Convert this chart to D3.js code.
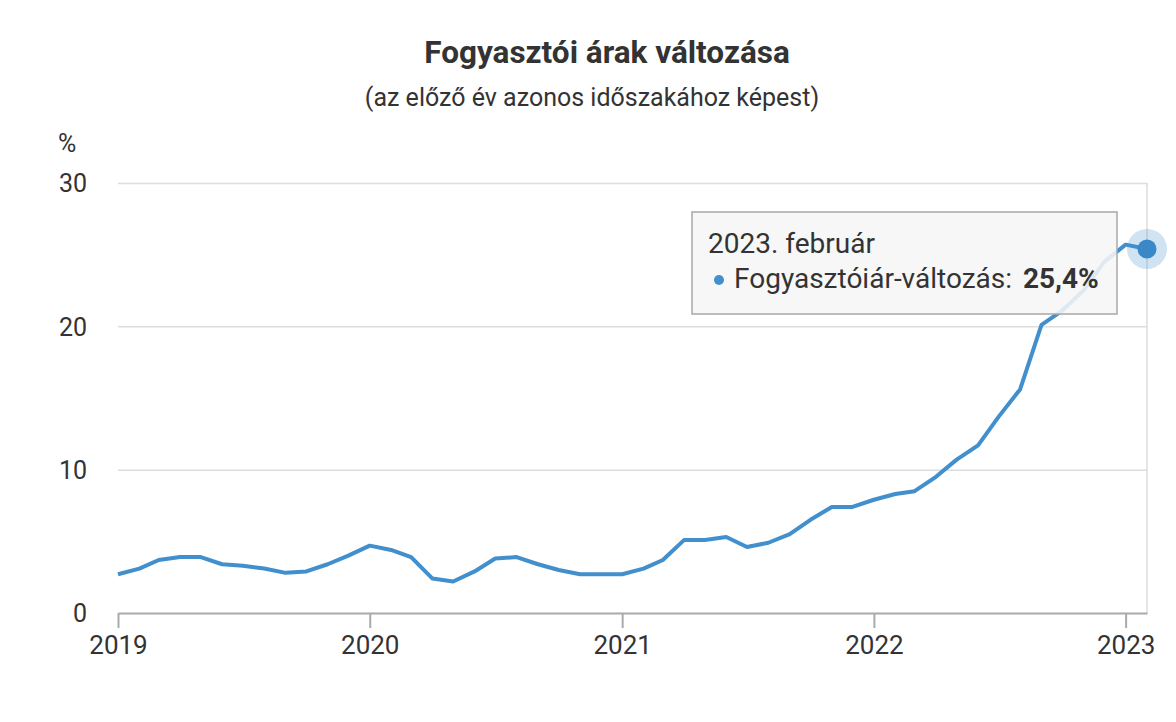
<!DOCTYPE html>
<html lang="hu">
<head>
<meta charset="utf-8">
<script src="https://cdn.jsdelivr.net/npm/d3@7"></script>
<style>
	html, body { margin: 0; padding: 0; background: #fff; }
	svg { display: block; font-family: Roboto, "Noto Sans", sans-serif; }
</style>
</head>
<body>
<div id="chart"></div>
<script>
// fogyasztói árak, előző év azonos időszakához képest (%)
const kezdoHonap = '2019-01';
const inflacio = [
	2.7, 3.1, 3.7, 3.9, 3.9, 3.4, 3.3, 3.1, 2.8, 2.9, 3.4, 4.0,
	4.7, 4.4, 3.9, 2.4, 2.2, 2.9, 3.8, 3.9, 3.4, 3.0, 2.7, 2.7,
	2.7, 3.1, 3.7, 5.1, 5.1, 5.3, 4.6, 4.9, 5.5, 6.5, 7.4, 7.4,
	7.9, 8.3, 8.5, 9.5, 10.7, 11.7, 13.7, 15.6, 20.1, 21.1, 22.5, 24.5,
	25.7, 25.4,
];
const evek = ['2019', '2020', '2021', '2022', '2023'];
const yTickek = [0, 10, 20, 30];
const honapNevek = ['január', 'február', 'március', 'április', 'május', 'június',
	'július', 'augusztus', 'szeptember', 'október', 'november', 'december'];
const sorozatNev = 'Fogyasztóiár-változás';

const width = 1176;
const height = 722;
const margin = { top: 183, right: 29, bottom: 109, left: 118 };

const lineColor = '#418fcc';
const textColor = '#333333';

const parseMonth = d3.timeParse('%Y-%m');
const start = parseMonth(kezdoHonap);
const data = inflacio.map((v, i) => ({ date: d3.timeMonth.offset(start, i), value: v }));

const svg = d3.select('#chart')
	.append('svg')
	.attr('width', width)
	.attr('height', height);

const x = d3.scaleTime()
	.domain(d3.extent(data, d => d.date))
	.range([margin.left, width - margin.right]);

const y = d3.scaleLinear()
	.domain([0, 30])
	.range([height - margin.bottom, margin.top]);

// cím
svg.append('text')
	.attr('x', 607)
	.attr('y', 63)
	.attr('text-anchor', 'middle')
	.style('font-size', '31.5px')
	.style('font-weight', 700)
	.style('fill', textColor)
	.text('Fogyasztói árak változása');

svg.append('text')
	.attr('x', 592)
	.attr('y', 106)
	.attr('text-anchor', 'middle')
	.style('font-size', '25px')
	.style('fill', textColor)
	.text('(az előző év azonos időszakához képest)');

svg.append('text')
	.attr('x', 58)
	.attr('y', 152)
	.style('font-size', '25px')
	.style('fill', textColor)
	.text('%');

// rácsvonalak
const yAxis = svg.append('g')
	.attr('transform', `translate(${margin.left},0)`)
	.call(d3.axisLeft(y)
		.tickValues(yTickek)
		.tickSize(-(width - margin.left - margin.right))
		.tickPadding(31)
		.tickFormat(d3.format('d')));
yAxis.select('.domain').remove();
yAxis.selectAll('.tick line')
	.attr('stroke', '#dddddd')
	.attr('stroke-width', 1.5)
	.filter(d => d === 0).remove();
yAxis.selectAll('.tick text')
	.attr('dy', '0.35em')
	.style('font-size', '25px')
	.style('font-family', 'Roboto, sans-serif')
	.style('fill', textColor);

// jobb oldali szegély / célkereszt
svg.append('line')
	.attr('x1', x(data[data.length - 1].date))
	.attr('x2', x(data[data.length - 1].date))
	.attr('y1', y(30))
	.attr('y2', y(0))
	.attr('stroke', '#dddddd')
	.attr('stroke-width', 1.5);

// x tengely
const xAxis = svg.append('g')
	.attr('transform', `translate(0,${y(0)})`)
	.call(d3.axisBottom(x)
		.tickValues(evek.map(e => d3.timeParse('%Y')(e)))
		.tickSize(15)
		.tickSizeOuter(0)
		.tickPadding(8)
		.tickFormat(d3.timeFormat('%Y')));
xAxis.select('.domain')
	.attr('stroke', '#aaaaaa')
	.attr('stroke-width', 2);
xAxis.selectAll('.tick line')
	.attr('stroke', '#aaaaaa')
	.attr('stroke-width', 2);
xAxis.selectAll('.tick text')
	.style('font-size', '26px')
	.style('font-family', 'Roboto, sans-serif')
	.style('fill', textColor);

// vonal
const line = d3.line()
	.x(d => x(d.date))
	.y(d => y(d.value));

svg.append('path')
	.datum(data)
	.attr('fill', 'none')
	.attr('stroke', lineColor)
	.attr('stroke-width', 4)
	.attr('stroke-linejoin', 'round')
	.attr('d', line);

// kiemelt pont
const last = data[data.length - 1];
svg.append('circle')
	.attr('cx', x(last.date))
	.attr('cy', y(last.value))
	.attr('r', 20)
	.style('fill', lineColor)
	.style('fill-opacity', 0.25);
svg.append('circle')
	.attr('cx', x(last.date))
	.attr('cy', y(last.value))
	.attr('r', 9.5)
	.style('fill', '#3a88c8');

// tooltip
const tip = svg.append('g')
	.attr('transform', 'translate(692,212)');
tip.append('rect')
	.attr('width', 425)
	.attr('height', 102)
	.attr('fill', 'rgba(246,246,246,0.88)')
	.attr('stroke', '#a8a8a8')
	.attr('stroke-width', 1.5);
tip.append('text')
	.attr('x', 16)
	.attr('y', 41)
	.style('font-size', '28px')
	.style('fill', textColor)
	.text(`${last.date.getFullYear()}. ${honapNevek[last.date.getMonth()]}`);
tip.append('circle')
	.attr('cx', 27)
	.attr('cy', 68)
	.attr('r', 5)
	.style('fill', lineColor);
const row = tip.append('text')
	.attr('x', 42)
	.attr('y', 76)
	.style('font-size', '28px')
	.style('fill', textColor);
row.append('tspan').text(`${sorozatNev}: `);
row.append('tspan')
	.attr('dx', 4)
	.style('font-weight', 700)
	.text(`${d3.format('.1f')(last.value).replace('.', ',')}%`);
</script>
</body>
</html>
